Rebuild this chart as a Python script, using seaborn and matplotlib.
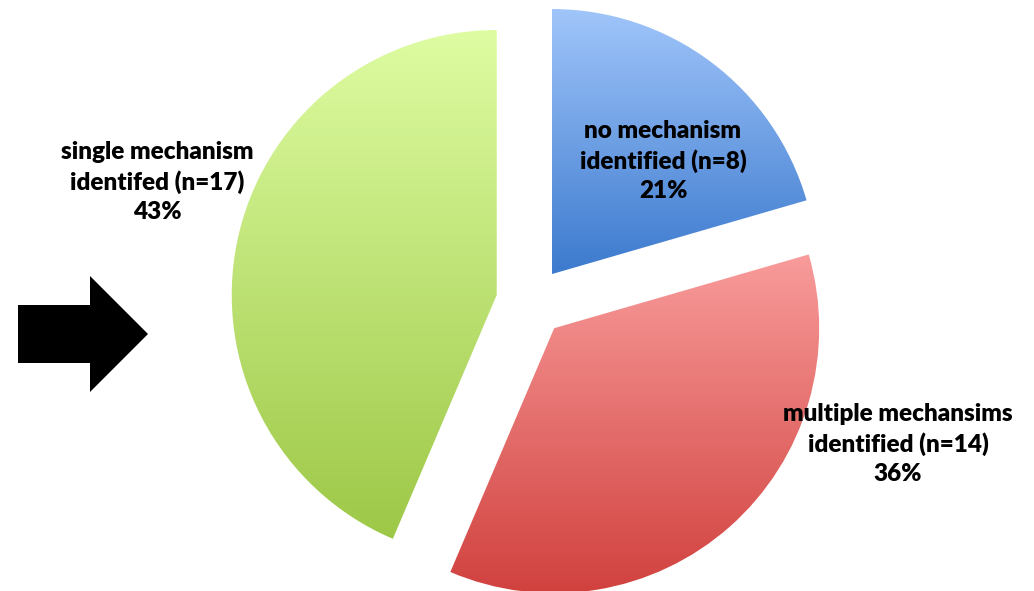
import numpy as np
import matplotlib
matplotlib.use("Agg")
import matplotlib.pyplot as plt
from matplotlib.colors import LinearSegmentedColormap
from matplotlib.patches import Polygon
import seaborn as sns

# Category counts and labels
categories = ["no mechanism\nidentified (n=8)",
              "multiple mechansims\nidentified (n=14)",
              "single mechanism\nidentifed (n=17)"]
counts = [8, 14, 17]
pct_labels = ["21%", "36%", "43%"]

# Vertical gradient colours per slice (top, bottom)
top_colors = ["#A0C5FA", "#F89C9B", "#DEFCA2"]
bottom_colors = ["#3C7ACE", "#D0403D", "#9DC847"]

sns.set_theme(style="white")
plt.rcParams["font.family"] = ["Lato", "DejaVu Sans"]

W, H = 1034, 591
R_PX = 265.0          # pie radius in pixels
CX, CY = 531.0, 302.0 # pie centre in pixels (from top-left)

fig = plt.figure(figsize=(W / 100, H / 100), dpi=100)
ax = fig.add_axes([0, 0, 1, 1])

wedges, _ = ax.pie(counts, startangle=90, counterclock=False,
                   explode=[0.132] * 3, radius=1.0, center=(0, 0))

# data units: 1 unit = pie radius
ax.set_xlim(-CX / R_PX, (W - CX) / R_PX)
ax.set_ylim(-(H - CY) / R_PX, CY / R_PX)
ax.set_axis_off()

for w, c0, c1 in zip(wedges, top_colors, bottom_colors):
    w.set_facecolor("none")
    w.set_edgecolor("none")
    verts = w.get_path().vertices
    xmin, ymin = verts.min(axis=0)
    xmax, ymax = verts.max(axis=0)
    cmap = LinearSegmentedColormap.from_list("g", [c0, c1])
    grad = np.linspace(0, 1, 256).reshape(-1, 1)
    im = ax.imshow(grad, cmap=cmap, aspect="auto", origin="upper",
                   extent=(xmin, xmax, ymin, ymax), interpolation="bilinear",
                   zorder=2)
    im.set_clip_path(w)

ax.set_xlim(-CX / R_PX, (W - CX) / R_PX)
ax.set_ylim(-(H - CY) / R_PX, CY / R_PX)


def px(x, y):
    return ((x - CX) / R_PX, (CY - y) / R_PX)


# Slice labels (pixel anchor of each text block centre)
label_pos = [(663, 161), (898, 444), (157, 182)]
for (lx, ly), cat, pct in zip(label_pos, categories, pct_labels):
    ax.text(*px(lx, ly), f"{cat}\n{pct}", ha="center", va="center",
            fontsize=17.5, fontweight="heavy", color="black",
            linespacing=1.38, zorder=5)

# Block arrow pointing at the largest slice
arrow_px = [(18, 305), (90, 305), (90, 276), (148, 334),
            (90, 392), (90, 363), (18, 363)]
ax.add_patch(Polygon([px(x, y) for x, y in arrow_px], closed=True,
                     facecolor="black", edgecolor="none", zorder=5))

fig.savefig("out.png", dpi=100)
